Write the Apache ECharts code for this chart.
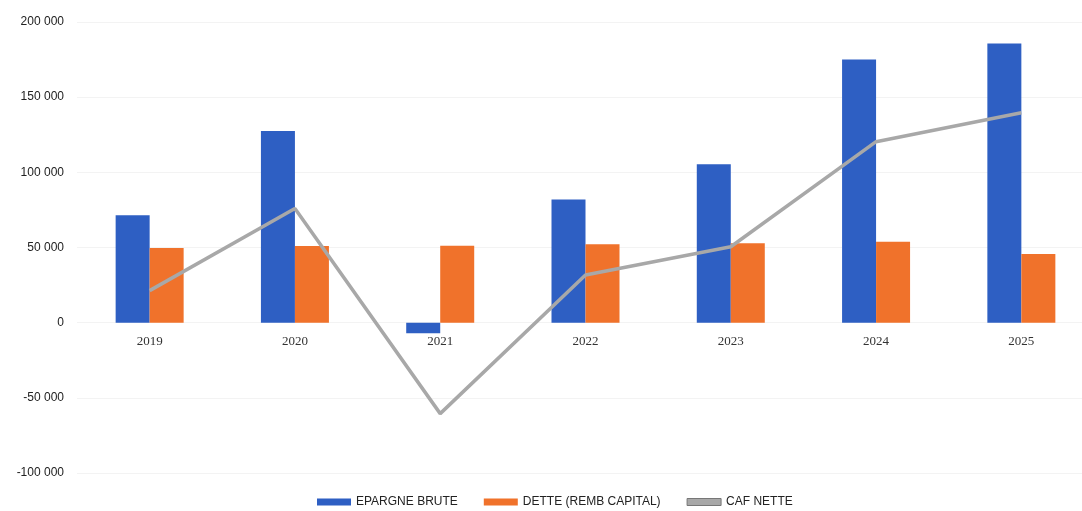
<!DOCTYPE html>
<html>
<head>
<meta charset="utf-8">
<script src="https://cdn.jsdelivr.net/npm/echarts@6/dist/echarts.min.js"></script>
<style>
html,body{margin:0;padding:0;background:#fff;}
#c{width:1082px;height:511px;}
</style>
</head>
<body>
<div id="c"></div>
<script>
var categories = ['2019','2020','2021','2022','2023','2024','2025'];
var epargneBrute = [71500, 127500, -7000, 82000, 105300, 175000, 185700];
var dette = [49600, 51000, 51200, 52100, 52800, 53900, 45700];
var cafNette = [21300, 76000, -60500, 31700, 50500, 120400, 139600];
var yTicks = {min: -100000, max: 200000, interval: 50000};

function fmt(v){
  var s = Math.abs(v).toString().replace(/\B(?=(\d{3})+(?!\d))/g, ' ');
  return (v < 0 ? '-' : '') + s;
}

var chart = echarts.init(document.getElementById('c'));
chart.setOption({
  animation: false,
  backgroundColor: '#ffffff',
  grid: {left: 77, top: 22, right: -12, bottom: 38, containLabel: false, outerBoundsMode: 'none'},
  legend: {
    top: 491,
    left: 312,
    itemWidth: 34,
    itemHeight: 7,
    itemGap: 26,
    textStyle: {fontFamily: 'Liberation Sans, Arial, sans-serif', fontSize: 12, color: '#222'},
    data: [
      {name: 'EPARGNE BRUTE', icon: 'rect'},
      {name: 'DETTE (REMB CAPITAL)', icon: 'rect'},
      {name: 'CAF NETTE', icon: 'rect', itemStyle: {color: '#a8a8a8', borderColor: '#777', borderWidth: 1}}
    ]
  },
  xAxis: {
    type: 'category',
    data: categories,
    offset: -150.5,
    axisLine: {show: false, onZero: false},
    axisTick: {show: false},
    axisLabel: {margin: 13, fontFamily: 'Liberation Serif, serif', fontSize: 13, color: '#333'},
    splitLine: {show: false}
  },
  yAxis: {
    type: 'value',
    min: yTicks.min,
    max: yTicks.max,
    interval: yTicks.interval,
    axisLine: {show: false},
    axisTick: {show: false},
    axisLabel: {margin: 13, fontFamily: 'Liberation Sans, Arial, sans-serif', fontSize: 12, color: '#222', formatter: fmt},
    splitLine: {lineStyle: {color: '#f3f3f3', width: 1}}
  },
  series: [
    {
      name: 'EPARGNE BRUTE', type: 'bar', data: epargneBrute,
      barWidth: 34, barGap: '0%',
      itemStyle: {color: '#2e5fc3'}
    },
    {
      name: 'DETTE (REMB CAPITAL)', type: 'bar', data: dette,
      barWidth: 34, barGap: '0%',
      itemStyle: {color: '#f0722b'}
    },
    {
      name: 'CAF NETTE', type: 'line', data: cafNette,
      symbol: 'none', z: 5,
      lineStyle: {color: '#a8a8a8', width: 3.5},
      itemStyle: {color: '#a8a8a8'}
    }
  ]
});
</script>
</body>
</html>
